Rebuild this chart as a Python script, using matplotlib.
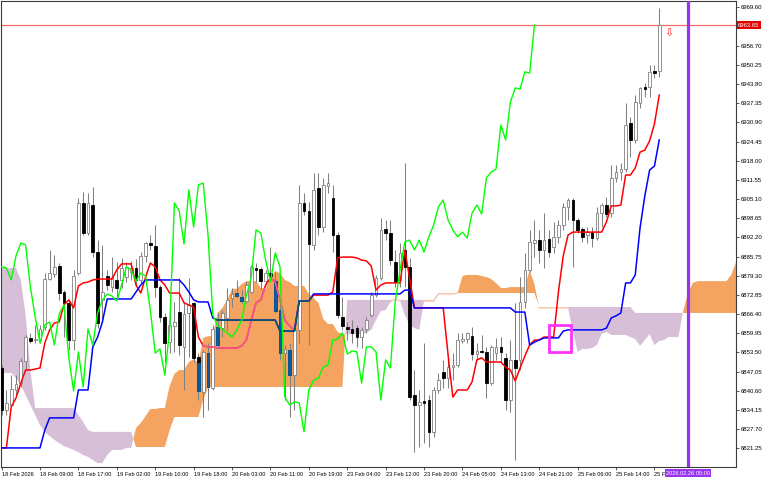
import matplotlib
matplotlib.use('Agg')
import matplotlib.pyplot as plt
import matplotlib.transforms as mtransforms
from matplotlib.patches import Rectangle
import numpy as np

plt.rcParams['font.family'] = ['Liberation Sans', 'DejaVu Sans']

# velas H1, 18-25 Feb 2026 (barra 0 = 18 Feb 00:00)
opens = [
    6848.3, 6834.2, 6835.8, 6840.9, 6843.2, 6850.6, 6858.4, 6857.7, 6857.7, 6862.1,
    6878.2, 6879.9, 6882.6, 6873.9, 6870.2, 6857.7, 6880.2, 6903.8, 6893.7, 6903.1,
    6887.3, 6871.2, 6879.2, 6875.5, 6877.9, 6877.9, 6878.9, 6880.6, 6881.9, 6877.9,
    6886.0, 6890.3, 6889.3, 6875.5, 6865.4, 6857.0, 6862.4, 6867.1, 6855.4, 6866.8,
    6870.2, 6852.0, 6840.2, 6853.3, 6841.6, 6862.1, 6861.7, 6865.1, 6871.8, 6873.5,
    6872.2, 6870.8, 6873.9, 6881.9, 6881.6, 6877.5, 6880.2, 6877.5, 6867.8, 6853.3,
    6854.3, 6845.9, 6861.1, 6903.8, 6901.1, 6889.7, 6908.8, 6895.7, 6909.5, 6905.5,
    6893.0, 6865.4, 6862.1, 6861.4, 6861.7, 6858.7, 6861.4, 6866.1, 6872.8, 6878.6,
    6895.0, 6893.7, 6883.9, 6877.9, 6888.0, 6882.3, 6839.2, 6835.8, 6837.2, 6837.5,
    6826.8, 6840.9, 6846.9, 6844.9, 6848.6, 6849.3, 6857.4, 6858.0, 6859.0, 6853.0,
    6854.0, 6853.7, 6843.2, 6853.3, 6855.4, 6851.7, 6837.5, 6851.0, 6851.0, 6870.5,
    6881.3, 6890.3, 6891.3, 6888.0, 6891.7, 6889.0, 6892.4, 6896.4, 6902.5, 6904.8,
    6898.1, 6895.0, 6893.0, 6894.0, 6892.0, 6900.4, 6903.1, 6900.4, 6912.2, 6914.2,
    6915.2, 6930.7, 6925.0, 6937.4, 6942.8, 6942.8, 6948.2, 6948.2]
highs = [
    6849.3, 6840.9, 6845.9, 6845.9, 6851.7, 6859.4, 6860.1, 6862.8, 6862.8, 6880.2,
    6888.0, 6886.3, 6883.6, 6874.5, 6871.2, 6881.3, 6905.5, 6907.5, 6907.2, 6909.2,
    6891.3, 6889.7, 6881.3, 6885.6, 6883.9, 6885.3, 6883.9, 6884.3, 6885.0, 6887.3,
    6890.7, 6893.0, 6896.4, 6876.2, 6866.8, 6870.2, 6870.5, 6878.6, 6870.5, 6878.6,
    6870.5, 6853.3, 6854.3, 6856.7, 6862.8, 6866.8, 6867.8, 6875.2, 6875.2, 6877.9,
    6874.5, 6877.2, 6882.9, 6883.6, 6882.3, 6881.3, 6889.0, 6880.6, 6870.2, 6856.0,
    6856.7, 6862.1, 6909.9, 6907.2, 6904.1, 6913.9, 6913.9, 6912.2, 6913.9, 6909.9,
    6894.0, 6872.2, 6863.8, 6864.4, 6862.8, 6862.1, 6865.4, 6873.9, 6879.6, 6898.7,
    6898.1, 6898.1, 6888.0, 6890.3, 6917.2, 6885.3, 6847.6, 6840.9, 6856.7, 6839.2,
    6841.9, 6846.6, 6851.0, 6851.7, 6853.3, 6860.1, 6860.1, 6860.4, 6862.1, 6856.7,
    6859.4, 6855.4, 6856.0, 6858.4, 6858.7, 6853.3, 6857.7, 6870.2, 6878.9, 6887.0,
    6894.7, 6898.1, 6894.7, 6900.4, 6894.7, 6897.4, 6898.1, 6903.8, 6905.5, 6905.5,
    6898.7, 6895.7, 6895.7, 6895.7, 6902.5, 6903.8, 6905.8, 6916.6, 6916.6, 6917.2,
    6937.4, 6932.7, 6940.1, 6942.8, 6944.2, 6950.2, 6950.2, 6969.4]
lows = [
    6832.5, 6832.5, 6835.2, 6838.5, 6841.9, 6847.6, 6856.7, 6856.7, 6856.7, 6861.1,
    6877.9, 6878.9, 6871.2, 6858.7, 6854.3, 6854.3, 6879.6, 6893.0, 6893.0, 6885.6,
    6861.7, 6863.8, 6874.5, 6873.9, 6871.8, 6875.2, 6877.2, 6877.9, 6876.2, 6876.9,
    6883.9, 6888.0, 6872.2, 6863.8, 6850.3, 6853.3, 6853.7, 6852.7, 6840.9, 6852.0,
    6850.3, 6837.5, 6831.8, 6834.2, 6840.9, 6855.4, 6858.7, 6861.1, 6868.8, 6872.2,
    6870.2, 6870.2, 6873.5, 6877.2, 6874.5, 6876.2, 6877.2, 6866.8, 6851.0, 6837.5,
    6831.8, 6834.2, 6856.7, 6899.8, 6856.0, 6888.0, 6893.0, 6894.0, 6907.2, 6887.3,
    6865.1, 6861.1, 6857.7, 6856.7, 6855.4, 6855.0, 6860.1, 6865.4, 6872.2, 6877.9,
    6891.3, 6882.9, 6875.5, 6875.5, 6875.5, 6837.5, 6820.0, 6821.7, 6823.0, 6821.7,
    6825.1, 6839.9, 6841.6, 6841.6, 6844.2, 6848.6, 6856.7, 6856.7, 6851.0, 6851.0,
    6853.3, 6838.2, 6842.6, 6851.0, 6850.3, 6834.2, 6833.5, 6817.3, 6847.6, 6868.5,
    6880.6, 6885.6, 6883.6, 6881.9, 6885.6, 6887.0, 6890.3, 6894.7, 6898.1, 6882.3,
    6893.7, 6890.7, 6890.3, 6889.0, 6891.3, 6895.7, 6899.1, 6899.1, 6910.9, 6911.5,
    6914.2, 6919.3, 6924.0, 6935.7, 6939.5, 6939.5, 6945.8, 6946.2]
closes = [
    6834.2, 6836.5, 6841.2, 6842.9, 6850.6, 6858.7, 6857.4, 6858.0, 6861.4, 6878.2,
    6880.2, 6882.3, 6873.5, 6870.2, 6857.7, 6879.2, 6903.8, 6893.7, 6903.8, 6887.3,
    6863.4, 6873.9, 6876.2, 6878.9, 6875.2, 6881.9, 6882.3, 6881.9, 6877.9, 6886.0,
    6890.3, 6889.7, 6875.5, 6865.4, 6856.7, 6862.8, 6863.8, 6856.0, 6866.5, 6869.5,
    6851.7, 6840.6, 6853.7, 6841.9, 6861.4, 6856.0, 6866.8, 6871.2, 6873.2, 6872.5,
    6870.8, 6876.2, 6882.3, 6881.3, 6877.5, 6880.2, 6879.2, 6867.5, 6853.3, 6854.7,
    6845.9, 6861.1, 6903.8, 6901.1, 6890.0, 6908.2, 6895.7, 6909.9, 6910.5, 6893.0,
    6866.1, 6862.4, 6861.4, 6860.1, 6858.7, 6861.1, 6864.4, 6872.8, 6878.6, 6894.7,
    6893.7, 6884.6, 6877.2, 6887.0, 6882.3, 6838.5, 6835.8, 6836.9, 6836.5, 6826.8,
    6840.9, 6844.2, 6844.9, 6848.6, 6849.3, 6857.7, 6858.0, 6860.1, 6853.0, 6854.0,
    6853.7, 6843.2, 6855.4, 6855.4, 6853.7, 6837.5, 6851.0, 6848.3, 6870.5, 6881.3,
    6890.7, 6891.3, 6888.0, 6891.3, 6887.3, 6892.4, 6896.4, 6902.5, 6904.8, 6898.1,
    6894.7, 6892.4, 6894.0, 6892.0, 6900.4, 6903.1, 6900.1, 6912.2, 6914.2, 6915.2,
    6930.0, 6925.0, 6937.8, 6942.5, 6942.1, 6947.9, 6947.5, 6963.65]

# ichimoku
tenkan = [
    6821.4, 6821.4, 6835.2, 6838.2, 6843.2, 6847.6, 6847.6, 6847.9, 6848.3, 6856.7,
    6861.1, 6863.4, 6863.8, 6869.5, 6871.2, 6868.5, 6875.9, 6876.9, 6877.2, 6877.9,
    6878.2, 6878.2, 6878.2, 6878.2, 6881.3, 6883.3, 6883.3, 6883.3, 6876.2, 6873.5,
    6878.9, 6883.6, 6882.3, 6877.9, 6876.2, 6873.5, 6873.5, 6873.5, 6870.2, 6869.5,
    6868.8, 6858.7, 6855.7, 6855.4, 6855.4, 6855.0, 6855.0, 6855.0, 6855.0, 6855.0,
    6855.7, 6857.7, 6864.4, 6870.2, 6871.2, 6876.2, 6878.6, 6877.2, 6871.2, 6864.4,
    6862.4, 6861.1, 6870.8, 6870.8, 6870.8, 6872.8, 6872.8, 6872.8, 6872.8, 6873.9,
    6885.3, 6885.6, 6885.6, 6885.6, 6885.3, 6884.6, 6884.3, 6882.6, 6874.5, 6876.2,
    6876.9, 6876.9, 6876.9, 6876.9, 6888.0, 6878.6, 6868.5, 6868.5, 6868.5, 6868.5,
    6868.5, 6868.5, 6868.5, 6852.7, 6838.5, 6840.9, 6840.9, 6840.9, 6843.6, 6851.0,
    6851.7, 6850.3, 6850.3, 6850.3, 6850.3, 6848.6, 6847.6, 6843.9, 6848.3, 6852.3,
    6856.0, 6857.7, 6857.7, 6858.7, 6858.7, 6858.7, 6873.9, 6886.0, 6893.0, 6894.0,
    6894.0, 6894.0, 6894.0, 6894.0, 6894.0, 6894.0, 6897.4, 6902.8, 6902.8, 6903.1,
    6913.2, 6913.2, 6915.6, 6920.9, 6921.6, 6924.7, 6930.4, 6940.1]
kijun = ([6821.4] * 9 + [6827.4] + [6831.5] * 6 + [6840.9] * 3 + [6855.4, 6858.7, 6863.8]
         + [6871.5] * 6 + [6873.9, 6876.2] + [6877.9] * 8 + [6876.2, 6873.9, 6871.2]
         + [6870.5] * 3 + [6865.1] + [6864.4] * 13 + [6860.7] * 4 + [6870.8] * 3
         + [6873.2] * 19 + [6874.5] * 2 + [6868.5] * 21 + [6867.1] * 3
         + [6856.0, 6857.0, 6857.7] + [6858.4] * 4 + [6860.7] + [6861.1] * 8
         + [6861.7, 6865.1, 6865.8, 6866.8, 6876.9, 6876.9, 6879.6, 6895.4,
            6906.2, 6914.9, 6916.2, 6925.0])

# nube: posiciones -1 .. 153 (26 barras adelantada)
span_a = [
    6846.6, 6846.6, 6846.6, 6846.6, 6844.9, 6842.6, 6839.2, 6835.8, 6832.5, 6829.1,
    6826.8, 6825.4, 6824.1, 6823.0, 6822.0, 6821.4, 6820.7, 6820.0, 6819.0, 6818.4,
    6817.3, 6816.3, 6816.3, 6819.0, 6820.7, 6820.7, 6820.7, 6821.4, 6821.4, 6828.1,
    6829.8, 6832.1, 6834.5, 6834.5, 6834.8, 6834.8, 6842.2, 6846.3, 6847.6, 6847.6,
    6850.3, 6851.3, 6850.0, 6858.4, 6859.0, 6859.0, 6866.8, 6868.5, 6871.2, 6874.9,
    6874.9, 6876.5, 6877.5, 6877.5, 6877.5, 6875.2, 6874.9, 6878.6, 6880.9, 6880.2,
    6877.9, 6877.2, 6875.9, 6875.9, 6875.9, 6873.2, 6871.8, 6870.2, 6864.8, 6863.1,
    6863.1, 6860.4, 6859.7, 6859.7, 6859.7, 6859.7, 6859.7, 6860.1, 6861.1, 6864.4,
    6867.5, 6867.8, 6870.5, 6871.5, 6870.8, 6866.1, 6862.8, 6861.7, 6861.1, 6870.8,
    6870.8, 6870.8, 6873.2, 6873.2, 6873.2, 6873.2, 6873.5, 6879.2, 6879.6, 6879.6,
    6879.6, 6879.2, 6878.9, 6878.2, 6876.9, 6875.2, 6875.2, 6875.5, 6875.5, 6875.5,
    6875.5, 6881.3, 6876.5, 6868.5, 6868.5, 6868.5, 6868.5, 6868.5, 6868.5, 6868.5,
    6860.7, 6853.7, 6854.7, 6854.7, 6855.0, 6856.0, 6859.7, 6860.4, 6859.4, 6859.4,
    6859.4, 6859.4, 6858.7, 6858.0, 6855.7, 6857.7, 6859.7, 6856.0, 6857.4, 6857.7,
    6858.7, 6858.7, 6858.7, 6867.5, 6873.5, 6876.9, 6877.5, 6877.5, 6877.5, 6877.5,
    6877.5, 6877.5, 6877.5, 6879.6, 6883.9]
span_b = ([6881.9] * 5 + [6877.9, 6866.1, 6847.6] + [6834.8] * 9 + [6832.5, 6830.1, 6827.4]
          + [6826.8] * 9 + [6821.7] * 7 + [6827.4] + [6831.8] * 6 + [6837.5]
          + [6841.9] * 29 + [6871.2] * 19 + [6873.5] * 21 + [6868.8] * 20 + [6866.8] * 22)

tick_pos = [0, 8, 16, 24, 32, 40, 48, 56, 64, 72, 80, 88, 96, 104, 112, 120, 128, 136]
tick_labels = ['18 Feb 2026', '18 Feb 09:00', '18 Feb 17:00', '19 Feb 02:00', '19 Feb 10:00',
               '19 Feb 18:00', '20 Feb 03:00', '20 Feb 11:00', '20 Feb 19:00', '23 Feb 04:00',
               '23 Feb 12:00', '23 Feb 20:00', '24 Feb 05:00', '24 Feb 13:00', '24 Feb 21:00',
               '25 Feb 06:00', '25 Feb 14:00', '25 F']
price_ticks = [6821.25, 6827.70, 6834.15, 6840.60, 6847.05, 6853.50, 6859.95, 6866.40,
               6872.85, 6879.30, 6885.75, 6892.20, 6898.65, 6905.10, 6911.55, 6918.00,
               6924.45, 6930.90, 6937.35, 6943.80, 6950.25, 6956.70, 6963.15, 6969.60]

last_price = 6963.65
future_bar = 143
future_label = '2026.02.26 05:00'
box_x0, box_x1, box_y0, box_y1 = 114.1, 118.7, 6853.8, 6862.9

o = np.array(opens); h = np.array(highs); l = np.array(lows); c = np.array(closes)
n = len(c)
x = np.arange(n)
cx = np.arange(-1, len(span_a) - 1)
sa = np.array(span_a); sb = np.array(span_b)

fig = plt.figure(figsize=(7.68, 4.8), dpi=100)
ax = fig.add_axes([0.5 / 768, 13.5 / 480, 735.5 / 768, 466 / 480])
ax.set_xlim(-0.23, 152.99)
ax.set_ylim(6815.15, 6971.9)

# nube
ax.fill_between(cx, sa, sb, where=sa >= sb, interpolate=True, color='#f4a460', lw=0, zorder=1)
ax.fill_between(cx, sa, sb, where=sa <= sb, interpolate=True, color='#d8bfd8', lw=0, zorder=1)
ax.plot(cx, np.where(np.abs(sa - sb) < 1.0, sa, np.nan), color='#f8cba8', lw=1, zorder=1.2)

ax.axhline(last_price, color='#f06a6a', lw=0.9, zorder=1.5)

# velas
ax.vlines(x, l, h, colors='#808080', lw=0.75, zorder=2)
w = 0.55
for i in range(n):
    bot, top = min(o[i], c[i]), max(o[i], c[i])
    if top - bot < 0.3:
        top = bot + 0.3
    if c[i] >= o[i]:
        ax.add_patch(Rectangle((i - w / 2, bot), w, top - bot, fc='white', ec='#808080', lw=0.6, zorder=3))
    else:
        ax.add_patch(Rectangle((i - w / 2, bot), w, top - bot, fc='black', ec='black', lw=0.6, zorder=3))
        a_i, b_i = sa[i + 1], sb[i + 1]
        if a_i > b_i:
            lo, hi = max(bot, b_i), min(top, a_i)
            if hi > lo:
                ax.add_patch(Rectangle((i - w / 2, lo), w, hi - lo, fc='#0b5b9f', ec='#0b5b9f',
                                       lw=0.6, zorder=3.1))


def draw_line(xs, ys, color, inside_color, lw, z):
    xs = np.asarray(xs, float); ys = np.asarray(ys, float)
    xf = np.linspace(xs[0], xs[-1], (len(xs) - 1) * 8 + 1)
    yf = np.interp(xf, xs, ys)
    ca = np.interp(xf, cx, sa); cb = np.interp(xf, cx, sb)
    ax.plot(xf, yf, color=color, lw=lw, zorder=z)
    if inside_color:
        inside = (ca > cb) & (yf < ca) & (yf > cb)
        ax.plot(xf, np.where(inside, yf, np.nan), color=inside_color, lw=lw, zorder=z + 0.1)


draw_line(x, tenkan, '#ff0000', '#f45b9f', 1.1, 4)
draw_line(x, kijun, '#0000ff', '#0b5b5e', 1.1, 4.2)
# chikou = cierre desplazado 26 barras atras
ax.plot(x[:n - 26], c[26:], color='#00ff00', lw=1.0, zorder=4.5)

ax.axvline(future_bar, color='#9933ee', lw=2.3, zorder=5)
ax.add_patch(Rectangle((box_x0, box_y0), box_x1 - box_x0, box_y1 - box_y0, fill=False,
                       ec='#ff33ff', lw=2.0, zorder=6))
ax.text(138.9, 6961.0, '\u21e9', color='#ff3030', fontsize=8, family='DejaVu Sans',
        ha='center', va='center', zorder=6)

# ejes
for s in ax.spines.values():
    s.set_color('#3c3c3c')
    s.set_linewidth(0.8)
ax.yaxis.tick_right()
ax.set_yticks(price_ticks)
# la etiqueta 6963.15 queda tapada por la del precio actual
ax.set_yticklabels(['' if abs(v - last_price) < 2 else f'{v:.2f}' for v in price_ticks])
ax.tick_params(axis='y', direction='out', length=2.5, width=0.6, pad=0.8, labelsize=4.3,
               colors='#3c3c3c', labelcolor='black')
ax.set_xticks(tick_pos)
ax.set_xticklabels(tick_labels)
ax.tick_params(axis='x', direction='out', length=2.5, width=0.6, pad=1.2, labelsize=4.1,
               colors='#3c3c3c', labelcolor='black')
for lbl in ax.get_xticklabels():
    lbl.set_horizontalalignment('left')

tr_y = mtransforms.blended_transform_factory(ax.transAxes, ax.transData)
ax.text(1.003, last_price, f'{last_price:.2f}', transform=tr_y, color='white', fontsize=4.3,
        ha='left', va='center', zorder=10, clip_on=False,
        bbox=dict(boxstyle='square,pad=0.2', fc='#e00000', ec='none'))
tr_x = mtransforms.blended_transform_factory(ax.transData, ax.transAxes)
ax.text(future_bar, -0.0145, future_label, transform=tr_x, color='white', fontsize=4.1,
        ha='center', va='center', zorder=10, clip_on=False,
        bbox=dict(boxstyle='square,pad=0.25', fc='#9933ee', ec='none'))

fig.savefig('out.png', dpi=100)
